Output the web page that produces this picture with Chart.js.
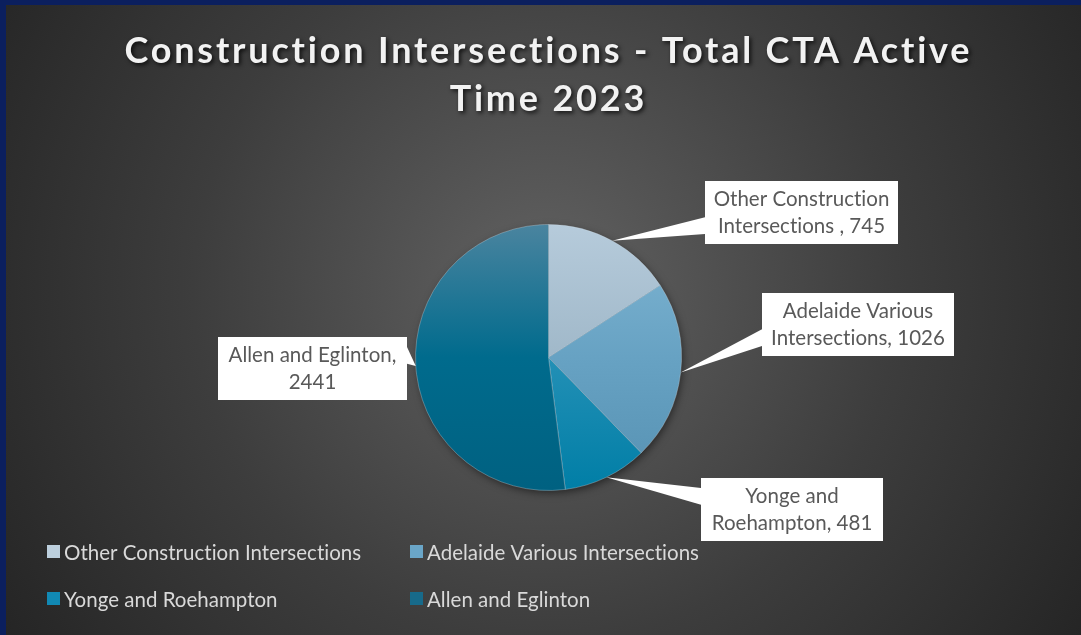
<!DOCTYPE html>
<html>
<head>
<meta charset="utf-8">
<title>Construction Intersections - Total CTA Active Time 2023</title>
<script src="https://cdn.jsdelivr.net/npm/chart.js@4.4.1/dist/chart.umd.min.js"></script>
<style>
  html, body { margin: 0; padding: 0; background: #0b1f5e; overflow: hidden; }
  canvas { display: block; }
</style>
</head>
<body>
<canvas id="pieChart" width="1081" height="635"></canvas>
<script>
// chart data
const chartTitle = ['Construction Intersections - Total CTA Active', 'Time 2023'];
const categories = ['Other Construction Intersections', 'Adelaide Various Intersections', 'Yonge and Roehampton', 'Allen and Eglinton'];
const activeTime = [745, 1026, 481, 2441];
// excel put a stray space before the comma on the first label
const labelSeparators = [' , ', ', ', ', ', ', '];
// how many words go on the first line of each callout
const firstLineWords = [2, 2, 2, 3];

// slice colours (vertical gradient, top -> middle -> bottom)
const sliceTop = ['#b6cbdb', '#80b6d3', '#52a8c7', '#4a849f'];
const sliceMid = ['#a0b8c9', '#67a2c3', '#2390b6', '#006b8d'];
const sliceBottom = ['#8ba7ba', '#5691b2', '#007ea6', '#006181'];
const legendColors = ['#bccfdd', '#6aa6c8', '#1189b4', '#176a8a'];

// callout boxes (left, top, width, height)
const calloutBox = [
    { x: 705, y: 181, w: 193, h: 63 },
    { x: 762, y: 293, w: 192, h: 63 },
    { x: 701, y: 478, w: 182, h: 63 },
    { x: 218, y: 337, w: 189, h: 63 }
];

const ctx = document.getElementById('pieChart').getContext('2d');

function sliceFill(context) {
    const i = context.dataIndex;
    const area = context.chart.chartArea;
    if (!area) return sliceMid[i];
    const g = context.chart.ctx.createLinearGradient(0, area.top, 0, area.bottom);
    g.addColorStop(0, sliceTop[i]);
    g.addColorStop(0.5, sliceMid[i]);
    g.addColorStop(1, sliceBottom[i]);
    return g;
}

// dark frame + radial grey background
const backdrop = {
    id: 'backdrop',
    beforeDraw(chart) {
        const c = chart.ctx;
        c.save();
        c.fillStyle = '#0b1f5e';
        c.fillRect(0, 0, chart.width, chart.height);
        const g = c.createRadialGradient(545, 290, 0, 545, 290, 640);
        g.addColorStop(0, '#626262');
        g.addColorStop(0.55, '#3d3d3d');
        g.addColorStop(1, '#252525');
        c.fillStyle = g;
        c.fillRect(6, 5, chart.width - 6, chart.height - 5);
        c.restore();
    }
};

// soft shadow under the pie
const pieShadow = {
    id: 'pieShadow',
    beforeDatasetsDraw(chart) {
        const arc = chart.getDatasetMeta(0).data[0];
        if (!arc) return;
        const { x, y, outerRadius } = arc.getProps(['x', 'y', 'outerRadius'], true);
        const c = chart.ctx;
        c.save();
        c.shadowColor = 'rgba(0,0,0,0.55)';
        c.shadowBlur = 9;
        c.shadowOffsetX = 2;
        c.shadowOffsetY = 3;
        c.fillStyle = '#1f1f1f';
        c.beginPath();
        c.arc(x, y, outerRadius - 1, 0, Math.PI * 2);
        c.fill();
        c.restore();
    }
};

// white rectangular callouts with a wedge pointing at the slice
const callouts = {
    id: 'callouts',
    afterDatasetsDraw(chart) {
        const c = chart.ctx;
        const meta = chart.getDatasetMeta(0);
        const values = chart.data.datasets[0].data;
        c.save();
        meta.data.forEach((arc, i) => {
            const p = arc.getProps(['x', 'y', 'startAngle', 'endAngle', 'outerRadius'], true);
            const mid = (p.startAngle + p.endAngle) / 2;
            const tipX = p.x + Math.cos(mid) * p.outerRadius;
            const tipY = p.y + Math.sin(mid) * p.outerRadius;
            const b = calloutBox[i];
            const below = tipY > b.y + b.h / 2;
            const y1 = b.y + b.h * (below ? 7 : 2) / 12;
            const y2 = b.y + b.h * (below ? 10 : 5) / 12;
            const side = tipX < b.x ? b.x : b.x + b.w;

            c.fillStyle = '#ffffff';
            c.fillRect(b.x, b.y, b.w, b.h);
            c.beginPath();
            c.moveTo(side, y1 - 0.5);
            c.lineTo(tipX, tipY);
            c.lineTo(side, y2 + 0.5);
            c.closePath();
            c.fill();

            const words = (chart.data.labels[i] + labelSeparators[i] + values[i]).split(' ');
            const n = firstLineWords[i];
            const lines = [words.slice(0, n).join(' '), words.slice(n).join(' ')];
            c.fillStyle = '#595959';
            c.font = '20.5px Lato';
            c.letterSpacing = '0.01px'; // stops the "ti" ligature
            c.textAlign = 'center';
            c.textBaseline = 'middle';
            const cx = b.x + b.w / 2;
            const cy = b.y + b.h / 2;
            c.fillText(lines[0], cx, cy - 13);
            c.fillText(lines[1], cx, cy + 14);
        });
        c.restore();
    }
};

// spaced-out bold title with a drop shadow
const titlePlugin = {
    id: 'bigTitle',
    afterDraw(chart) {
        const c = chart.ctx;
        c.save();
        c.font = 'bold 36px Lato';
        c.textAlign = 'left';
        c.textBaseline = 'alphabetic';
        c.letterSpacing = '0px';
        const plain = c.measureText(chartTitle[0]).width;
        const spacing = (847 - plain) / (chartTitle[0].length - 1);
        c.letterSpacing = spacing + 'px';
        c.shadowColor = 'rgba(0,0,0,0.75)';
        c.shadowBlur = 4;
        c.shadowOffsetX = 2;
        c.shadowOffsetY = 2;
        c.fillStyle = '#f2f2f2';
        const baselines = [63, 111];
        chartTitle.forEach((line, k) => {
            const w = c.measureText(line).width - spacing;
            c.fillText(line, 547 - w / 2, baselines[k]);
        });
        c.restore();
    }
};

// legend in two columns along the bottom
const legendPlugin = {
    id: 'twoColLegend',
    afterDraw(chart) {
        const c = chart.ctx;
        const colX = [47, 410];
        const rowY = [552, 599];
        c.save();
        c.font = '20.5px Lato';
        c.letterSpacing = '0.01px';
        c.textBaseline = 'middle';
        c.textAlign = 'left';
        chart.data.labels.forEach((label, i) => {
            const x = colX[i % 2];
            const y = rowY[Math.floor(i / 2)];
            c.fillStyle = legendColors[i];
            c.fillRect(x, y - 7, 13, 13);
            c.fillStyle = '#d9d9d9';
            c.fillText(label, x + 17, y + 1);
        });
        c.restore();
    }
};

const pieChart = new Chart(ctx, {
    type: 'pie',
    data: {
        labels: categories,
        datasets: [{
            data: activeTime,
            backgroundColor: sliceFill,
            borderColor: 'rgba(210,222,230,0.55)',
            borderWidth: 0.6,
            radius: 133
        }]
    },
    options: {
        responsive: false,
        animation: false,
        layout: {
            padding: { top: 224.5, bottom: 144.5, left: 415.5, right: 399.5 }
        },
        plugins: {
            legend: { display: false },
            title: { display: false },
            tooltip: { enabled: false }
        }
    },
    plugins: [backdrop, pieShadow, callouts, titlePlugin, legendPlugin]
});
</script>
</body>
</html>
